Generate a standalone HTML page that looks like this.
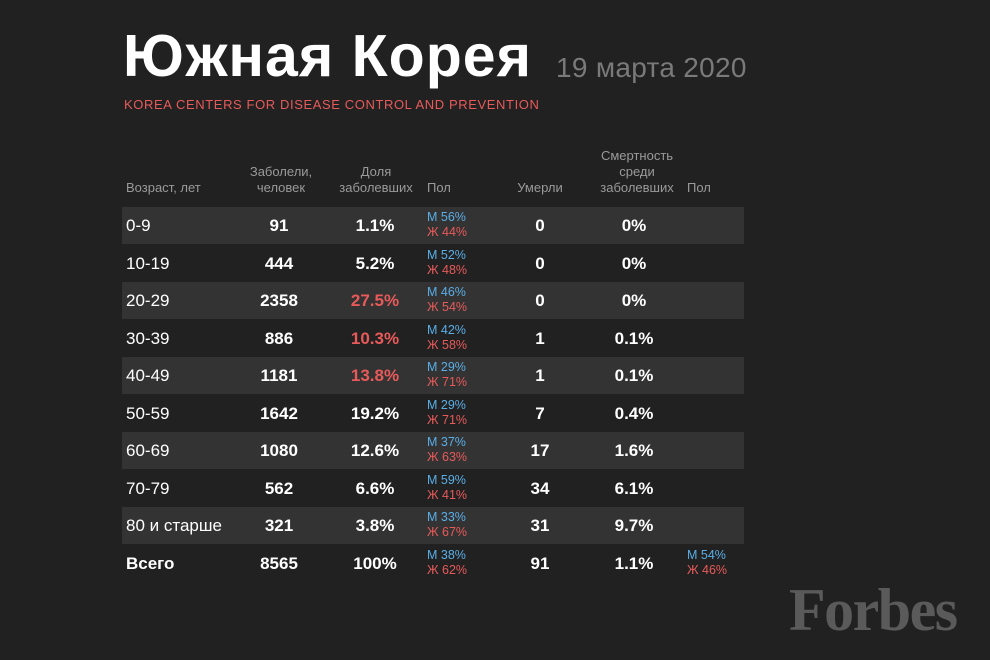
<!DOCTYPE html>
<html><head><meta charset="utf-8"><style>
body{margin:0;width:990px;height:660px;background:#212121;font-family:"Liberation Sans","DejaVu Sans",sans-serif;position:relative;overflow:hidden;color:#fff}
.a{position:absolute;white-space:nowrap}
.h{color:#9a9a9a;font-size:13px;line-height:16px;text-align:center}
.row{position:absolute;left:122px;width:622px;height:37px}
.s{background:#333333}
.c{position:absolute;font-size:17px;font-weight:bold;top:9px;line-height:20px}
.ctr{transform:translateX(-50%)}
.sx{position:absolute;font-size:12.5px;line-height:15px;top:3px}
.m{color:#5aaee6}.f{color:#e85a5a}
.r{color:#e85a5a}
</style></head><body>
<div class="a" style="left:123px;top:22px;font-size:59px;font-weight:bold;letter-spacing:1px">Южная Корея</div>
<div class="a" style="left:556px;top:52px;font-size:28px;color:#7a7a7a;letter-spacing:0.3px">19 марта 2020</div>
<div class="a" style="left:124px;top:97px;font-size:13px;color:#e85a5a;letter-spacing:0.6px">KOREA CENTERS FOR DISEASE CONTROL AND PREVENTION</div>

<div class="a h" style="left:126px;top:180px;text-align:left">Возраст, лет</div>
<div class="a h ctr" style="left:281px;top:164px">Заболели,<br>человек</div>
<div class="a h ctr" style="left:376px;top:164px">Доля<br>заболевших</div>
<div class="a h" style="left:427px;top:180px;text-align:left">Пол</div>
<div class="a h ctr" style="left:540px;top:180px">Умерли</div>
<div class="a h ctr" style="left:637px;top:148px">Смертность<br>среди<br>заболевших</div>
<div class="a h" style="left:687px;top:180px;text-align:left">Пол</div>

<div id="t"></div>
<script>
var d=[["0-9","91","1.1%",0,"56","44","0","0%"],["10-19","444","5.2%",0,"52","48","0","0%"],["20-29","2358","27.5%",1,"46","54","0","0%"],["30-39","886","10.3%",1,"42","58","1","0.1%"],["40-49","1181","13.8%",1,"29","71","1","0.1%"],["50-59","1642","19.2%",0,"29","71","7","0.4%"],["60-69","1080","12.6%",0,"37","63","17","1.6%"],["70-79","562","6.6%",0,"59","41","34","6.1%"],["80 и старше","321","3.8%",0,"33","67","31","9.7%"],["Всего","8565","100%",0,"38","62","91","1.1%"]];
var h="";
d.forEach(function(r,i){var top=207+i*37.5;
h+='<div class="row'+(i%2==0&&i<9?' s':'')+'" style="top:'+top+'px">';
h+='<div class="c" style="left:4px;font-weight:'+(i==9?'bold':'normal')+'">'+r[0]+'</div>';
h+='<div class="c ctr" style="left:157px">'+r[1]+'</div>';
h+='<div class="c ctr'+(r[3]?' r':'')+'" style="left:253px">'+r[2]+'</div>';
h+='<div class="sx" style="left:305px"><span class="m">М '+r[4]+'%</span><br><span class="f">Ж '+r[5]+'%</span></div>';
h+='<div class="c ctr" style="left:418px">'+r[6]+'</div>';
h+='<div class="c ctr" style="left:512px">'+r[7]+'</div>';
if(i==9)h+='<div class="sx" style="left:565px"><span class="m">М 54%</span><br><span class="f">Ж 46%</span></div>';
h+='</div>';});
document.getElementById("t").innerHTML=h;
</script>
<div class="a" style="left:789px;top:578px;font-family:'Liberation Serif',serif;font-weight:bold;font-size:60px;color:#5a5a5a;letter-spacing:-1.5px;line-height:64px">Forbes</div>
</body></html>
